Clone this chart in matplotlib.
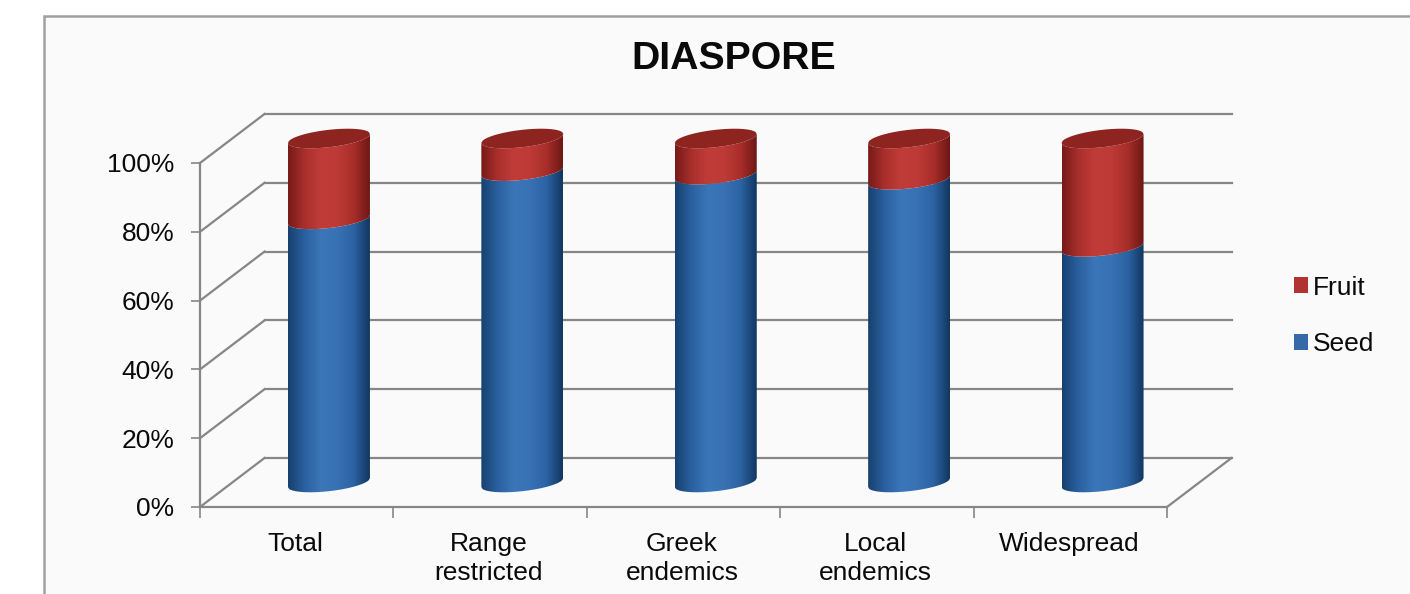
import numpy as np
import matplotlib
matplotlib.use('Agg')
import matplotlib.pyplot as plt
from matplotlib.colors import LinearSegmentedColormap
from matplotlib.patches import Patch, PathPatch, Rectangle
from matplotlib.path import Path

categories = ['Total', 'Range\nrestricted', 'Greek\nendemics', 'Local\nendemics', 'Widespread']
seed = [76.5, 90.5, 89.5, 88, 68.5]
fruit = [23.5, 9.5, 10.5, 12, 31.5]
yticks = [0, 20, 40, 60, 80, 100]

plt.rcParams['font.family'] = ['Liberation Sans', 'DejaVu Sans']

W, H = 1410, 594
fig = plt.figure(figsize=(W / 100, H / 100), dpi=100, facecolor='white')

# chart panel with the grey frame, runs off the right and bottom
fig.add_artist(Rectangle((44 / W, -0.02), 1.02, 1.02 - 16 / H, transform=fig.transFigure,
                         facecolor='#fafafa', edgecolor='#a0a0a0', linewidth=1.8, zorder=-5))

# axes cover the front plane of the 3d box
x0, x1, y0, y1 = 200, 1167, 507, 163
ax = fig.add_axes([x0 / W, 1 - y0 / H, (x1 - x0) / W, (y0 - y1) / H])
ax.set_xlim(0, len(categories))
ax.set_ylim(0, 100)
ax.patch.set_alpha(0)
for s in ax.spines.values():
    s.set_visible(False)

px_x = len(categories) / (x1 - x0)   # data units per pixel
px_y = 100 / (y0 - y1)
depth_x = 64.5 * px_x
depth_y = 49 * px_y

grid = '#868686'
lw = 1.6
for v in yticks:
    ax.plot([0, depth_x], [v, v + depth_y], color=grid, lw=lw, clip_on=False, zorder=1)
    ax.plot([depth_x, 5 + depth_x], [v + depth_y, v + depth_y], color=grid, lw=lw, clip_on=False, zorder=1)
ax.plot([0, 0], [0, 100], color=grid, lw=lw, clip_on=False, zorder=1)
ax.plot([0, 5], [0, 0], color=grid, lw=lw, clip_on=False, zorder=1)
ax.plot([5, 5 + depth_x], [0, depth_y], color=grid, lw=lw, clip_on=False, zorder=1)

ax.set_xticks(range(len(categories) + 1))
ax.set_xticklabels([])
ax.set_yticks(yticks)
ax.set_yticklabels([f'{v}%' for v in yticks], fontsize=19, color='#0a0a0a')
ax.tick_params(axis='y', length=6.5, width=1.2, color=grid, pad=12)
ax.tick_params(axis='x', length=8, width=1.2, color=grid)
for i, name in enumerate(categories):
    ax.text(i + 0.492, -7.3, name, ha='center', va='top', fontsize=19, color='#0a0a0a',
            linespacing=1.27, clip_on=False)

blue_cm = LinearSegmentedColormap.from_list('b', ['#17406f', '#2a609f', '#3a76b8', '#3872b4', '#2c63a3', '#123660'])
red_cm = LinearSegmentedColormap.from_list('r', ['#761a18', '#a92f2c', '#c03c39', '#bd3a37', '#a82e2b', '#6d1715'])

half_w = 41 * px_x
semi = 8.7 * px_y      # ellipse half height
tilt = 4.5 * px_y      # rise of the ellipse from centre to right edge


def rim(cx, level, lower=True):
    t = np.linspace(-1, 1, 80)
    sign = -1 if lower else 1
    return cx + t * half_w, level + t * tilt + sign * semi * np.sqrt(1 - t ** 2)


def segment(cx, lo, hi, cmap, z):
    xb, yb = rim(cx, lo)
    xt, yt = rim(cx, hi)
    verts = np.vstack([np.column_stack([xb, yb]), np.column_stack([xt[::-1], yt[::-1]]), [[xb[0], yb[0]]]])
    clip = PathPatch(Path(verts), transform=ax.transData, facecolor='none', edgecolor='none', clip_on=False)
    ax.add_patch(clip)
    shade = np.linspace(0, 1, 256).reshape(1, -1)
    im = ax.imshow(shade, cmap=cmap, aspect='auto', zorder=z, interpolation='bilinear',
                   extent=[cx - half_w, cx + half_w, lo - semi - tilt, hi + semi + tilt])
    # the cylinders poke out past the top of the front plane
    im.set_clip_box(fig.bbox)
    im.set_clip_path(clip)


for i, (s, f) in enumerate(zip(seed, fruit)):
    cx = i + 0.5 + depth_x / 2
    base = depth_y / 2
    segment(cx, base, base + s, blue_cm, 3)
    segment(cx, base + s, base + s + f, red_cm, 3)
    xl, yl = rim(cx, base + s + f, lower=True)
    xu, yu = rim(cx, base + s + f, lower=False)
    ax.fill(np.r_[xl, xu[::-1]], np.r_[yl, yu[::-1]], color='#8e2420', zorder=4, clip_on=False, lw=0)

ax.set_xlim(0, len(categories))
ax.set_ylim(0, 100)

fig.text(733.5 / W, 1 - 59 / H, 'DIASPORE', ha='center', va='center', fontsize=28.3, fontweight='bold', color='#0a0a0a')

handles = [Patch(facecolor='#b23431', label='Fruit'), Patch(facecolor='#3569a8', label='Seed')]
fig.legend(handles=handles, loc='center left', bbox_to_anchor=(1294 / W, 1 - 316 / H), frameon=False,
           fontsize=19, handlelength=0.52, handleheight=0.52, handletextpad=0.2, labelspacing=1.25,
           borderpad=0, borderaxespad=0, labelcolor='#0a0a0a')

fig.savefig('out.png', dpi=100, facecolor='white')
